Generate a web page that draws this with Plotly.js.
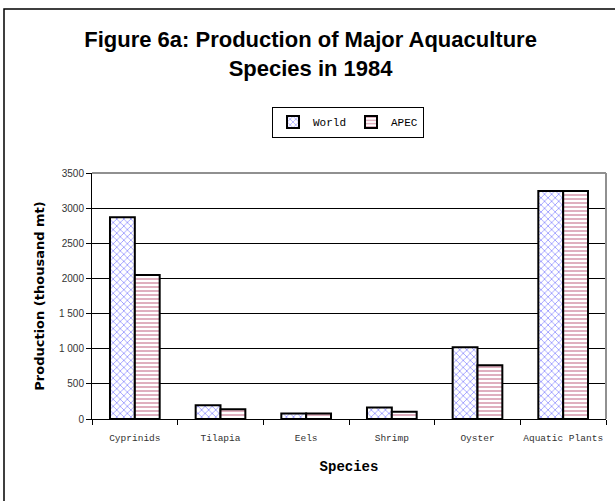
<!DOCTYPE html>
<html>
<head>
<meta charset="utf-8">
<script src="https://cdn.plot.ly/plotly-3.0.1.min.js"></script>
<style>html,body{margin:0;padding:0;background:#fff;}#chart{width:615px;height:501px;}</style>
</head>
<body>
<div id="chart"></div>
<script>
const categories = ["Cyprinids", "Tilapia", "Eels", "Shrimp", "Oyster", "Aquatic Plants"];
const worldValues = [2870, 195, 80, 165, 1020, 3245];
const apecValues = [2050, 138, 78, 104, 765, 3245];
const yTickVals = [0, 500, 1000, 1500, 2000, 2500, 3000, 3500];
const yTickText = ["0", "500", "1 000", "1 500", "2000", "2500", "3000", "3500"];

const traces = [
  {
    type: "bar", name: "World", x: categories, y: worldValues,
    marker: {
      color: "#ffffff",
      line: {color: "#000000", width: 2},
      pattern: {shape: "x", fgcolor: "#8080ff", bgcolor: "#ffffff", size: 5, solidity: 0.25}
    }
  },
  {
    type: "bar", name: "APEC", x: categories, y: apecValues,
    marker: {
      color: "#ffffff",
      line: {color: "#000000", width: 2},
      pattern: {shape: "-", fgcolor: "#c06080", bgcolor: "#ffffff", size: 4, solidity: 0.25}
    }
  }
];

const L = 92, R = 606, T = 173, B = 419;
const px = v => (v - L) / (R - L);
const py = v => (B - v) / (B - T);

const layout = {
  width: 615, height: 501,
  margin: {l: L, r: 615 - R, t: T, b: 501 - B, autoexpand: false},
  paper_bgcolor: "#ffffff", plot_bgcolor: "#ffffff",
  barmode: "group", bargap: 0.42, bargroupgap: 0,
  showlegend: true,
  title: {
    text: "Figure 6a: Production of Major Aquaculture<br>Species in 1984",
    font: {family: "Liberation Sans, Arial, sans-serif", size: 22, color: "#000000", weight: "bold"},
    xref: "container", x: 0.505, xanchor: "center",
    yref: "container", y: 0.906, yanchor: "top"
  },
  legend: {
    orientation: "h", xref: "container", x: 348 / 615, xanchor: "center",
    yref: "container", y: 1 - 122 / 501, yanchor: "middle",
    bordercolor: "#000000", borderwidth: 1, bgcolor: "#ffffff",
    font: {family: "Liberation Mono, Courier New, monospace", size: 11, color: "#000000"},
    itemwidth: 30, traceorder: "normal"
  },
  xaxis: {
    type: "category", tickangle: 0,
    showline: true, linecolor: "#000000", linewidth: 1,
    ticks: "outside", ticklen: 5, tickcolor: "#000000", tickson: "boundaries",
    ticklabelstandoff: 10,
    showgrid: false,
    tickfont: {family: "Liberation Mono, Courier New, monospace", size: 9.5, color: "#333333"},
    title: {text: "Species", font: {family: "Liberation Mono, Courier New, monospace", size: 14, color: "#000000", weight: "bold"}, standoff: 17}
  },
  yaxis: {
    range: [0, 3500], tickvals: yTickVals, ticktext: yTickText,
    showline: true, linecolor: "#000000", linewidth: 1,
    ticks: "outside", ticklen: 5, tickcolor: "#000000",
    showgrid: true, gridcolor: "#000000", gridwidth: 1,
    zeroline: false,
    tickfont: {family: "Liberation Sans, Arial, sans-serif", size: 10, color: "#333333"},
    title: {text: "Production (thousand mt)", font: {family: "DejaVu Sans, sans-serif", size: 13, color: "#000000", weight: "bold"}, standoff: 11}
  },
  shapes: [
    {type: "line", xref: "paper", yref: "paper", x0: 0, x1: 1, y0: 1, y1: 1,
     line: {color: "#909090", width: 2}},
    {type: "line", xref: "paper", yref: "paper", x0: 1, x1: 1, y0: 0, y1: 1,
     line: {color: "#909090", width: 2}},
    {type: "rect", xref: "paper", yref: "paper",
     x0: px(4), x1: px(640), y0: py(540), y1: py(9),
     line: {color: "#000000", width: 1.5}, fillcolor: "rgba(0,0,0,0)", layer: "above"}
  ]
};

Plotly.newPlot("chart", traces, layout, {displayModeBar: false, staticPlot: true});
</script>
</body>
</html>
